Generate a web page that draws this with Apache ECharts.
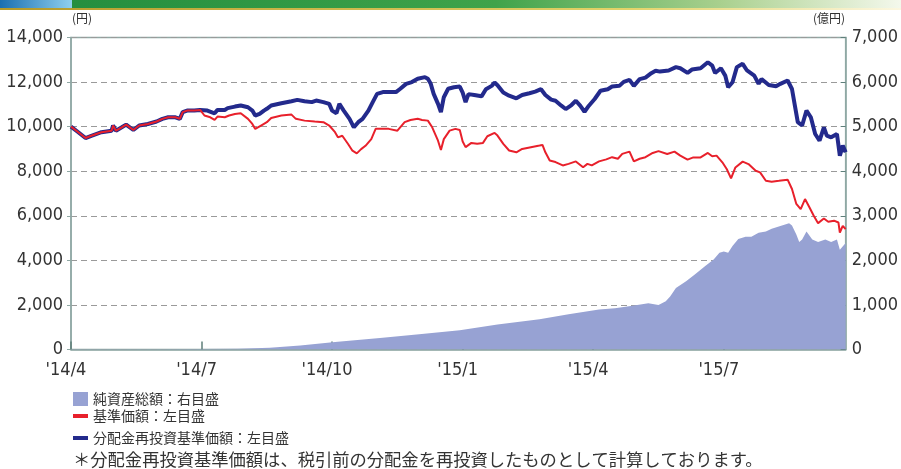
<!DOCTYPE html>
<html lang="ja">
<head>
<meta charset="UTF-8">
<title>基準価額・純資産総額の推移</title>
<script src="https://cdn.jsdelivr.net/npm/echarts@6/dist/echarts.min.js"></script>
<style>
  html, body { margin: 0; padding: 0; background: #fff; }
  #chart { width: 901px; height: 469px; }
</style>
</head>
<body>
<div id="chart"></div>
<script>
// 横軸の目盛
var tickLabels = ["'14/4", "'14/7", "'14/10", "'15/1", "'15/4", "'15/7"];

// 基準価額（円）
var navDates = [
  '2014/04/01','2014/04/06','2014/04/11','2014/04/15','2014/04/22','2014/04/29','2014/04/30','2014/05/02',
  '2014/05/06','2014/05/09','2014/05/14','2014/05/18','2014/05/24','2014/05/30','2014/06/04','2014/06/08',
  '2014/06/13','2014/06/16','2014/06/18','2014/06/21','2014/06/26','2014/06/30',
  '2014/07/03','2014/07/07','2014/07/10','2014/07/12','2014/07/17','2014/07/20','2014/07/24','2014/07/28',
  '2014/08/03','2014/08/06','2014/08/08','2014/08/12','2014/08/16','2014/08/19','2014/08/26','2014/09/03',
  '2014/09/06','2014/09/12','2014/09/19','2014/09/25','2014/09/29','2014/10/03','2014/10/05','2014/10/08',
  '2014/10/12','2014/10/15','2014/10/18','2014/10/21','2014/10/24','2014/10/28','2014/11/01','2014/11/06',
  '2014/11/10','2014/11/16','2014/11/21','2014/11/25','2014/11/30','2014/12/03','2014/12/07','2014/12/10',
  '2014/12/14','2014/12/16','2014/12/18','2014/12/22','2014/12/26','2014/12/29','2015/01/01','2015/01/03',
  '2015/01/07','2015/01/11','2015/01/15','2015/01/18','2015/01/23','2015/01/25','2015/01/29','2015/02/03',
  '2015/02/08','2015/02/12','2015/02/18','2015/02/24','2015/02/26','2015/02/28','2015/03/01','2015/03/05',
  '2015/03/10','2015/03/14','2015/03/19','2015/03/24','2015/03/27','2015/03/30','2015/04/05','2015/04/10',
  '2015/04/14','2015/04/18','2015/04/21','2015/04/26','2015/04/29','2015/05/03','2015/05/07','2015/05/12',
  '2015/05/16','2015/05/22','2015/05/27','2015/06/01','2015/06/06','2015/06/10','2015/06/15','2015/06/20',
  '2015/06/23','2015/06/26','2015/06/30','2015/07/03','2015/07/06','2015/07/09','2015/07/14','2015/07/18',
  '2015/07/23','2015/07/26','2015/07/30','2015/08/04','2015/08/09','2015/08/15','2015/08/18','2015/08/21',
  '2015/08/24','2015/08/27','2015/08/30','2015/09/03','2015/09/06','2015/09/10','2015/09/13','2015/09/17',
  '2015/09/20','2015/09/21','2015/09/23','2015/09/25'
];
var navValues = [
  10000,9750,9490,9590,9750,9820,10050,9820,
  9970,10090,9850,10050,10120,10230,10350,10420,
  10420,10350,10650,10720,10720,10750,
  10500,10420,10300,10450,10420,10500,10570,10600,
  10350,10120,9900,10050,10200,10390,10500,10540,
  10350,10270,10230,10200,10050,9750,9520,9590,
  9220,8920,8800,8990,9140,9440,9900,9900,
  9900,9820,10200,10300,10350,10300,10270,9970,
  9370,8950,9440,9820,9900,9850,9330,9080,
  9270,9230,9270,9570,9720,9600,9230,8930,
  8850,9000,9080,9150,9180,8850,8480,8410,
  8260,8330,8440,8180,8330,8260,8440,8530,
  8630,8560,8780,8880,8440,8560,8630,8820,
  8900,8770,8880,8700,8520,8620,8620,8820,
  8670,8700,8400,8100,7680,8170,8430,8320,
  8020,7950,7570,7530,7570,7620,7200,6530,
  6300,6750,6380,6000,5670,5880,5730,5780,
  5700,5250,5550,5400
];

// 分配金再投資基準価額（円）
var reinvDates = [
  '2014/04/01','2014/04/06','2014/04/11','2014/04/15','2014/04/22','2014/04/29','2014/04/30','2014/05/02',
  '2014/05/06','2014/05/09','2014/05/14','2014/05/18','2014/05/24','2014/05/30','2014/06/04','2014/06/08',
  '2014/06/13','2014/06/16','2014/06/18','2014/06/21','2014/06/26','2014/06/30',
  '2014/07/05','2014/07/10','2014/07/12','2014/07/17','2014/07/19','2014/07/24','2014/07/28','2014/08/03',
  '2014/08/06','2014/08/08','2014/08/11','2014/08/14','2014/08/16','2014/08/19','2014/08/26','2014/09/03',
  '2014/09/07','2014/09/12','2014/09/17','2014/09/20','2014/09/25','2014/09/29','2014/10/01','2014/10/04',
  '2014/10/06','2014/10/09','2014/10/13','2014/10/16','2014/10/19','2014/10/22','2014/10/26','2014/10/29',
  '2014/11/02','2014/11/06','2014/11/10','2014/11/15','2014/11/18','2014/11/22','2014/11/26','2014/11/30',
  '2014/12/05','2014/12/07','2014/12/09','2014/12/11','2014/12/14','2014/12/16','2014/12/18','2014/12/21',
  '2014/12/25','2014/12/29','2015/01/01','2015/01/03','2015/01/05','2015/01/09','2015/01/14','2015/01/17',
  '2015/01/21','2015/01/23','2015/01/25','2015/01/29','2015/02/03','2015/02/08','2015/02/12','2015/02/17',
  '2015/02/21','2015/02/25','2015/02/28','2015/03/02','2015/03/05','2015/03/09','2015/03/12','2015/03/16',
  '2015/03/19','2015/03/22','2015/03/25','2015/03/28','2015/04/02','2015/04/06','2015/04/11','2015/04/14',
  '2015/04/19','2015/04/22','2015/04/26','2015/04/29','2015/05/03','2015/05/07','2015/05/11','2015/05/14',
  '2015/05/17','2015/05/23','2015/05/28','2015/06/01','2015/06/06','2015/06/09','2015/06/15','2015/06/20',
  '2015/06/23','2015/06/25','2015/06/29','2015/07/02','2015/07/04','2015/07/07','2015/07/10','2015/07/14',
  '2015/07/17','2015/07/22','2015/07/25','2015/07/27','2015/08/02','2015/08/07','2015/08/10','2015/08/15',
  '2015/08/18','2015/08/20','2015/08/22','2015/08/25','2015/08/28','2015/08/31','2015/09/04','2015/09/07',
  '2015/09/10','2015/09/12','2015/09/15','2015/09/19','2015/09/21','2015/09/23','2015/09/25'
];
var reinvValues = [
  10000,9750,9490,9590,9750,9820,10050,9820,
  9970,10090,9850,10050,10120,10230,10350,10420,
  10420,10350,10650,10720,10720,10750,
  10720,10600,10750,10750,10830,10900,10950,10870,
  10720,10500,10570,10720,10800,10950,11050,11140,
  11200,11140,11100,11170,11100,11020,10720,10600,
  11020,10720,10350,9970,10200,10350,10720,11100,
  11470,11550,11550,11550,11700,11920,12000,12150,
  12220,12150,11920,11470,11020,10650,11320,11700,
  11770,11800,11530,11100,11460,11420,11360,11680,
  11830,11980,11860,11530,11390,11270,11420,11500,
  11570,11680,11420,11210,11160,10940,10790,10970,
  11160,10940,10670,10940,11240,11610,11680,11800,
  11830,12010,12100,11830,12130,12200,12400,12510,
  12470,12520,12670,12620,12410,12560,12620,12890,
  12740,12410,12620,12290,11770,11990,12670,12820,
  12520,12290,11920,12140,11870,11810,11920,12070,
  11690,10940,10200,10050,10720,10420,9670,9370,
  9970,9600,9520,9670,8700,9150,8850
];

// 純資産総額（億円）
var assetDates = [
  '2014/04/01','2014/06/01','2014/07/26','2014/08/18','2014/09/09','2014/10/03','2014/11/04','2014/12/01',
  '2014/12/29','2015/01/25','2015/02/24','2015/03/14','2015/04/05','2015/04/16','2015/04/28','2015/05/09',
  '2015/05/16','2015/05/21','2015/05/24','2015/05/28','2015/06/05','2015/06/11','2015/06/18','2015/06/24',
  '2015/06/28','2015/07/01','2015/07/04','2015/07/07','2015/07/11','2015/07/16','2015/07/20','2015/07/25',
  '2015/07/30','2015/08/04','2015/08/10','2015/08/16','2015/08/18','2015/08/21','2015/08/23','2015/08/25',
  '2015/08/28','2015/09/02','2015/09/06','2015/09/11','2015/09/15','2015/09/19','2015/09/21','2015/09/25'
];
var assetValues = [
  3,6,15,40,90,170,260,340,
  430,560,680,790,900,925,980,1040,
  1000,1080,1190,1380,1530,1680,1870,2020,
  2170,2200,2170,2320,2480,2530,2530,2620,
  2650,2710,2770,2830,2780,2580,2410,2470,
  2650,2470,2410,2470,2410,2470,2240,2390
];

// 日付 → 横軸位置（'14/4 起点の月数）
function monthPos(d) {
  var p = d.split('/').map(Number);
  return (p[0] - 2014) * 12 + (p[1] - 4) + (p[2] - 1) / 30;
}
function pairs(dates, values) {
  return dates.map(function (d, i) { return [monthPos(d), values[i]]; });
}

var axisColor = '#8fa8a4';
var labelFont = "'Liberation Sans Narrow', 'DejaVu Sans Condensed', 'Liberation Sans', sans-serif";
var jpFont = "'Noto Sans CJK JP', sans-serif";
var legendText = { color: '#333', fontSize: 14, fontFamily: jpFont };

var chart = echarts.init(document.getElementById('chart'));
var option = {
  animation: false,
  grid: {
    left: 71, right: 54, top: 37.5, bottom: 119.5,
    show: true, borderColor: axisColor, borderWidth: 1.5, backgroundColor: 'transparent'
  },
  xAxis: {
    type: 'value',
    min: 0, max: 17.8, interval: 3,
    axisLine: { show: true, lineStyle: { color: axisColor, width: 1.5 } },
    axisTick: { show: true, inside: true, length: 8, lineStyle: { color: '#5f7f7a', width: 1.5 } },
    splitLine: { show: false },
    axisLabel: {
      showMaxLabel: false,
      margin: 12,
      padding: [0, 10, 0, 0],
      color: '#333',
      fontSize: 18,
      fontFamily: labelFont,
      formatter: function (v) { return tickLabels[Math.round(v / 3)] || ''; }
    }
  },
  yAxis: [
    {
      type: 'value', min: 0, max: 14000, interval: 2000,
      axisLine: { show: true, lineStyle: { color: axisColor, width: 1.5 } },
      axisTick: { show: true, length: 4, lineStyle: { color: axisColor } },
      splitLine: { show: true, lineStyle: { color: '#9a9a9a', type: [6, 4], width: 1 } },
      axisLabel: {
        margin: 8, color: '#333', fontSize: 18, fontFamily: labelFont,
        formatter: function (v) { return v.toLocaleString('en-US'); }
      }
    },
    {
      type: 'value', min: 0, max: 7000, interval: 1000,
      axisLine: { show: true, lineStyle: { color: axisColor, width: 1.5 } },
      axisTick: { show: true, inside: true, length: 5, lineStyle: { color: '#5f7f7a' } },
      splitLine: { show: false },
      axisLabel: {
        margin: 6, color: '#333', fontSize: 18, fontFamily: labelFont,
        formatter: function (v) { return v.toLocaleString('en-US'); }
      }
    }
  ],
  legend: [
    {
      left: 68, top: 387, itemWidth: 15, itemHeight: 14, icon: 'rect',
      textStyle: legendText, data: ['純資産総額：右目盛']
    },
    {
      left: 68, top: 404, itemWidth: 15, itemHeight: 4, icon: 'rect',
      textStyle: legendText, data: ['基準価額：左目盛']
    },
    {
      left: 68, top: 426, itemWidth: 15, itemHeight: 4, icon: 'rect',
      textStyle: legendText, data: ['分配金再投資基準価額：左目盛']
    }
  ],
  graphic: [
    {
      type: 'rect', left: 0, top: 0, shape: { width: 901, height: 8 },
      style: { fill: new echarts.graphic.LinearGradient(0, 0, 1, 0, [
        { offset: 0, color: '#1f8b3d' }, { offset: 0.55, color: '#3fa34a' },
        { offset: 0.8, color: '#a9d08e' }, { offset: 1, color: '#f4f8ec' }
      ]) }
    },
    {
      type: 'rect', left: 0, top: 0, shape: { width: 72, height: 8 },
      style: { fill: new echarts.graphic.LinearGradient(0, 0, 1, 0, [
        { offset: 0, color: '#1a6fb0' }, { offset: 1, color: '#8fd0ee' }
      ]) }
    },
    {
      type: 'rect', left: 0, top: 8, shape: { width: 901, height: 2 },
      style: { fill: new echarts.graphic.LinearGradient(0, 0, 1, 0, [
        { offset: 0, color: '#b59a2a' }, { offset: 0.7, color: '#e3d36a' }, { offset: 1, color: '#fbf7e0' }
      ]) }
    },
    {
      type: 'text', left: 72, top: 12,
      style: { text: '(円)', fill: '#333', fontSize: 12, fontFamily: jpFont }
    },
    {
      type: 'text', right: 56, top: 12,
      style: { text: '(億円)', fill: '#333', fontSize: 12, fontFamily: jpFont }
    },
    {
      type: 'text', left: 73, top: 451,
      style: {
        text: '＊分配金再投資基準価額は、税引前の分配金を再投資したものとして計算しております。',
        fill: '#333', fontSize: 17.3, fontFamily: jpFont
      }
    }
  ],
  series: [
    {
      name: '純資産総額：右目盛',
      type: 'line', yAxisIndex: 1,
      data: pairs(assetDates, assetValues),
      showSymbol: false,
      color: '#97a2d3',
      lineStyle: { width: 0 },
      areaStyle: { color: '#97a2d3', opacity: 1 },
      z: 1
    },
    {
      name: '分配金再投資基準価額：左目盛',
      type: 'line', yAxisIndex: 0,
      data: pairs(reinvDates, reinvValues),
      showSymbol: false,
      color: '#232a8c',
      lineStyle: { width: 4, color: '#232a8c' },
      z: 2
    },
    {
      name: '基準価額：左目盛',
      type: 'line', yAxisIndex: 0,
      data: pairs(navDates, navValues),
      showSymbol: false,
      color: '#e8202b',
      lineStyle: { width: 2, color: '#e8202b' },
      z: 3
    }
  ]
};
chart.setOption(option);
</script>
</body>
</html>
